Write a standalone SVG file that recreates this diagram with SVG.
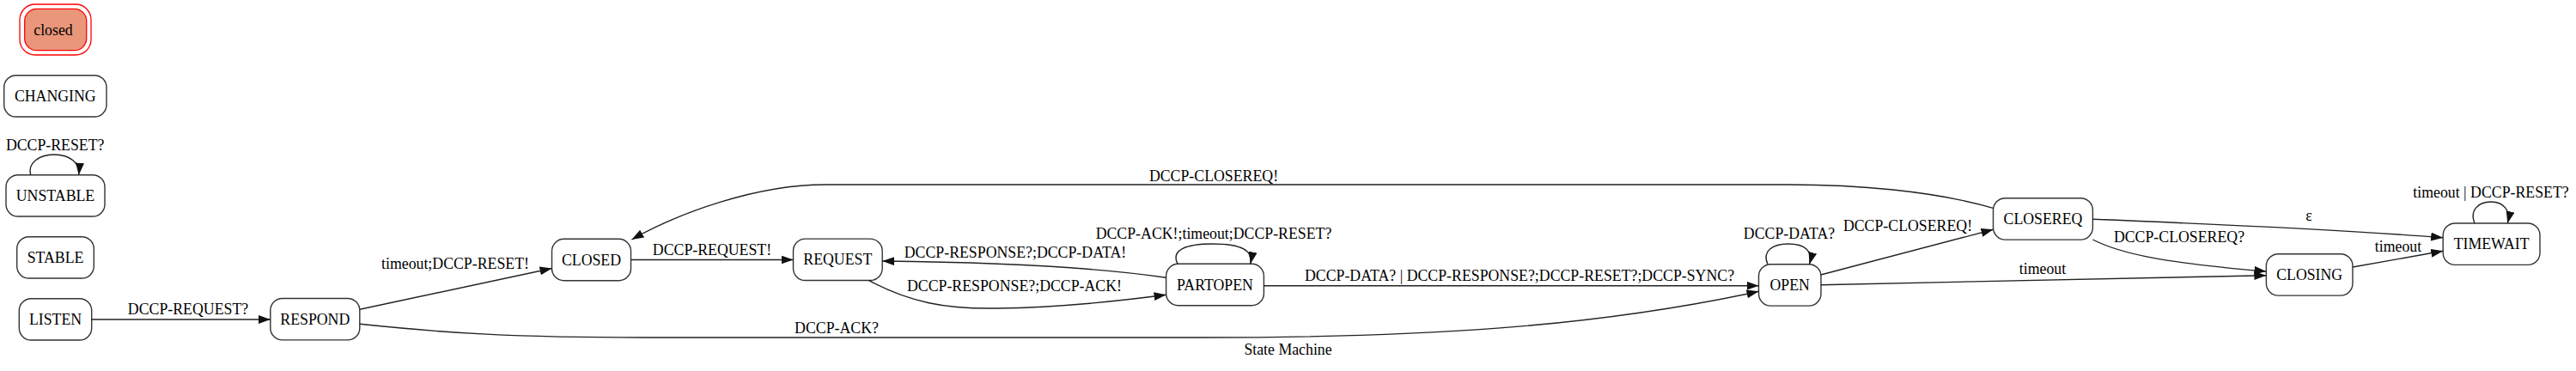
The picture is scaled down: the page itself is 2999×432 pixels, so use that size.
<svg xmlns="http://www.w3.org/2000/svg" width="2999" height="432" viewBox="0 0 2999 432">
<style>
  text { font-family: "Liberation Serif", "Times New Roman", serif; font-size: 17.8px; fill: #000; text-anchor: middle; }
  .node rect { fill: #fff; stroke: #333; stroke-width: 1.4; }
  .edge { fill: none; stroke: #222; stroke-width: 1.4; marker-end: url(#arr); }
</style>
<defs>
  <marker id="arr" markerUnits="userSpaceOnUse" markerWidth="15" markerHeight="11" refX="14" refY="5" orient="auto">
    <path d="M0,0 L14,5 L0,10 z" fill="#111"/>
  </marker>
</defs>
<rect x="0" y="0" width="2999" height="432" fill="#fff"/>

<!-- legend -->
<g id="legend-closed">
  <rect x="23" y="5" width="83" height="59" rx="18" fill="none" stroke="#f00" stroke-width="1.3"/>
  <rect x="28.7" y="10.3" width="72" height="48.4" rx="14" fill="#e9967a" stroke="#f00" stroke-width="1.3"/>
  <text x="62" y="40.5">closed</text>
</g>
<g id="legend-changing" class="node">
  <rect x="4.7" y="87.7" width="119.3" height="48.3" rx="14"/>
  <text x="64.3" y="117.5">CHANGING</text>
</g>
<g id="legend-unstable" class="node">
  <rect x="7" y="203.7" width="115" height="48.3" rx="14"/>
  <text x="64.5" y="233.5">UNSTABLE</text>
</g>
<g id="legend-stable" class="node">
  <rect x="19.7" y="275.7" width="89.6" height="48.3" rx="14"/>
  <text x="64.5" y="305.5">STABLE</text>
</g>

<!-- states -->
<g id="LISTEN" class="node">
  <rect x="22.3" y="347.7" width="84.4" height="48.3" rx="14"/>
  <text x="64.5" y="377.7">LISTEN</text>
</g>
<g id="RESPOND" class="node">
  <rect x="314.8" y="347.5" width="104" height="48.4" rx="14"/>
  <text x="366.8" y="377.7">RESPOND</text>
</g>
<g id="CLOSED" class="node">
  <rect x="642.5" y="278.3" width="92" height="48.4" rx="14"/>
  <text x="688.5" y="308.5">CLOSED</text>
</g>
<g id="REQUEST" class="node">
  <rect x="923.5" y="278.1" width="103.7" height="48.4" rx="14"/>
  <text x="975.3" y="308.3">REQUEST</text>
</g>
<g id="PARTOPEN" class="node">
  <rect x="1357.6" y="307.3" width="113.8" height="48.4" rx="14"/>
  <text x="1414.5" y="337.5">PARTOPEN</text>
</g>
<g id="OPEN" class="node">
  <rect x="2047.5" y="307.7" width="72.5" height="48.4" rx="14"/>
  <text x="2083.7" y="337.8">OPEN</text>
</g>
<g id="CLOSEREQ" class="node">
  <rect x="2320.5" y="230.7" width="115.9" height="48.4" rx="14"/>
  <text x="2378.5" y="260.8">CLOSEREQ</text>
</g>
<g id="CLOSING" class="node">
  <rect x="2638.4" y="295.7" width="100.6" height="48.4" rx="14"/>
  <text x="2688.7" y="325.8">CLOSING</text>
</g>
<g id="TIMEWAIT" class="node">
  <rect x="2844.2" y="260" width="112.8" height="48.4" rx="14"/>
  <text x="2900.6" y="290.2">TIMEWAIT</text>
</g>

<!-- connectors -->
<g id="edges">
  <path class="edge" d="M35.7,203.7 C32,190 45,180 63,180 C82,180 93,190 91.7,203.7"/>
  <text x="64.2" y="175">DCCP-RESET?</text>

  <path class="edge" d="M106.7,372 L314.8,372"/>
  <text x="219" y="366">DCCP-REQUEST?</text>

  <path class="edge" d="M418.8,360.3 L642.5,312.5"/>
  <text x="530" y="313">timeout;DCCP-RESET!</text>

  <path class="edge" d="M734.5,302.5 L923.5,302.5"/>
  <text x="829" y="297">DCCP-REQUEST!</text>

  <path class="edge" d="M1011.6,326.7 C1060,352 1100,360 1160,359 C1230,358 1300,351 1357.6,343.3"/>
  <text x="1181" y="339">DCCP-RESPONSE?;DCCP-ACK!</text>

  <path class="edge" d="M1357.6,323.3 C1260,309 1120,305 1027.2,304"/>
  <text x="1182" y="300">DCCP-RESPONSE?;DCCP-DATA!</text>

  <path class="edge" d="M1371,307.3 C1363,291 1380,284 1412,284 C1446,284 1459,292 1455.8,307.3"/>
  <text x="1413" y="278">DCCP-ACK!;timeout;DCCP-RESET?</text>

  <path class="edge" d="M1471.4,332.7 L2047.5,332.7"/>
  <text x="1769" y="326.7">DCCP-DATA? | DCCP-RESPONSE?;DCCP-RESET?;DCCP-SYNC?</text>

  <path class="edge" d="M418.8,377.3 C520,388 600,393 750,393 L1400,393 C1650,393 1850,382 2047.5,339.3"/>
  <text x="974" y="388">DCCP-ACK?</text>

  <path class="edge" d="M2058,307.7 C2051,292 2064,284 2082,284 C2101,284 2111,292 2106.6,307.7"/>
  <text x="2083" y="278">DCCP-DATA?</text>

  <path class="edge" d="M2119.8,320 L2320.5,267.3"/>
  <text x="2221" y="269">DCCP-CLOSEREQ!</text>

  <path class="edge" d="M2119.8,331.7 L2638.4,320.7"/>
  <text x="2378" y="319">timeout</text>

  <path class="edge" d="M2436.4,255.3 C2580,261 2720,267 2844.2,276.7"/>
  <text x="2688" y="257">ε</text>

  <path class="edge" d="M2436.4,279 C2470,296 2520,306 2638.4,316"/>
  <text x="2537" y="281.5">DCCP-CLOSEREQ?</text>

  <path class="edge" d="M2739,311 L2844.2,292.3"/>
  <text x="2792" y="293">timeout</text>

  <path class="edge" d="M2881,260 C2875,245 2885,235 2900,235 C2915,235 2923,245 2919.3,260"/>
  <text x="2900" y="230">timeout | DCCP-RESET?</text>

  <path class="edge" d="M2320.5,242.3 C2250,222 2160,215 2084,215 L961,215 C880,215 790,248 735.4,279"/>
  <text x="1413" y="210.7">DCCP-CLOSEREQ!</text>
</g>

<text id="graph-label" x="1499.5" y="413">State Machine</text>
</svg>
